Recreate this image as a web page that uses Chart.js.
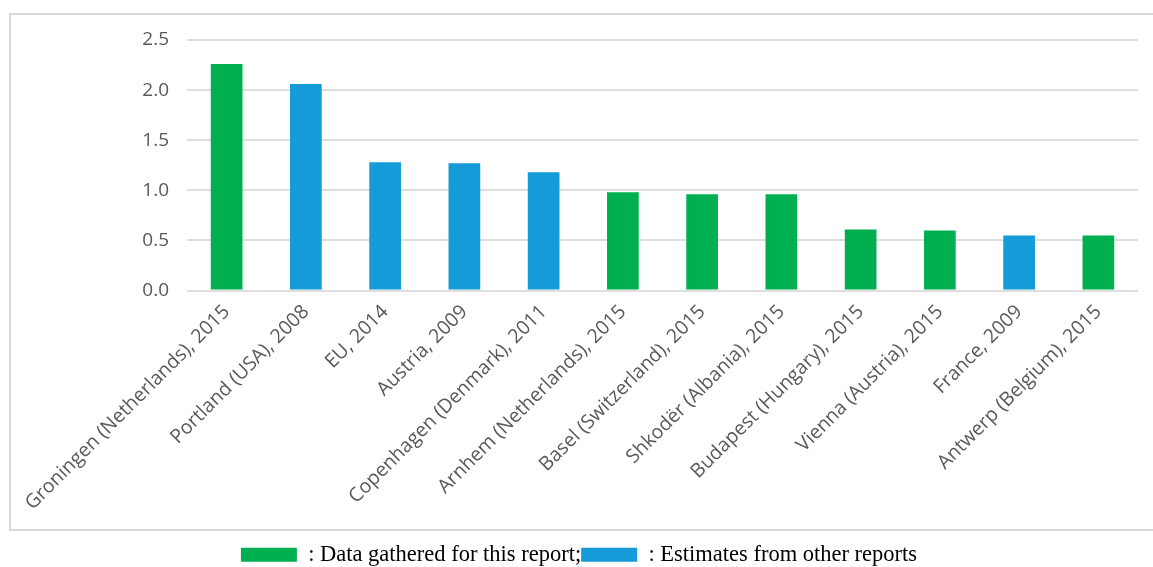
<!DOCTYPE html>
<html>
<head>
<meta charset="utf-8">
<script src="https://cdn.jsdelivr.net/npm/chart.js@4/dist/chart.umd.min.js"></script>
<style>
html,body{margin:0;padding:0;background:#fff;}
#wrap{position:relative;width:1153px;height:567px;}
</style>
</head>
<body>
<div id="wrap"><canvas id="c" width="1153" height="567"></canvas></div>
<script>
const categories = [
  "Groningen (Netherlands), 2015",
  "Portland (USA), 2008",
  "EU, 2014",
  "Austria, 2009",
  "Copenhagen (Denmark), 2011",
  "Arnhem (Netherlands), 2015",
  "Basel (Switzerland), 2015",
  "Shkodër (Albania), 2015",
  "Budapest (Hungary), 2015",
  "Vienna (Austria), 2015",
  "France, 2009",
  "Antwerp (Belgium), 2015"
];
const values = [2.26, 2.06, 1.28, 1.27, 1.18, 0.98, 0.96, 0.96, 0.61, 0.60, 0.55, 0.55];
// "own" = data gathered for this report, "other" = estimates from other reports
const sources = ["own","other","other","other","other","own","own","own","own","own","other","own"];
const legendLabels = [": Data gathered for this report;", ": Estimates from other reports"];
const yTicks = [0, 0.5, 1.0, 1.5, 2.0, 2.5];

const GREEN = "#00b050";
const BLUE = "#159bd7";
const colors = sources.map(s => s === "own" ? GREEN : BLUE);

const framePlugin = {
  id: "frame",
  beforeDraw(chart) {
    const ctx = chart.ctx;
    ctx.save();
    ctx.strokeStyle = "#d9d9d9";
    ctx.lineWidth = 2;
    ctx.strokeRect(10, 14, 1160, 516);
    ctx.restore();
  }
};

new Chart(document.getElementById("c"), {
  type: "bar",
  data: {
    labels: categories,
    datasets: [{
      data: values,
      backgroundColor: colors,
      borderColor: colors,
      borderWidth: 0,
      barPercentage: 0.4,
      categoryPercentage: 1.0
    }]
  },
  options: {
    responsive: false,
    animation: false,
    layout: { padding: { left: 20, right: 15, top: 40, bottom: -9 } },
    plugins: {
      tooltip: { enabled: false },
      legend: {
        position: "bottom",
        labels: {
          boxWidth: 56,
          boxHeight: 14,
          padding: 0,
          color: "#000",
          font: { family: "'Liberation Serif', 'DejaVu Serif', serif", size: 22.5 },
          generateLabels() {
            return [
              { text: legendLabels[0], fillStyle: GREEN, strokeStyle: GREEN, lineWidth: 0, hidden: false, datasetIndex: 0 },
              { text: legendLabels[1], fillStyle: BLUE, strokeStyle: BLUE, lineWidth: 0, hidden: false, datasetIndex: 0 }
            ];
          }
        },
        onClick() {}
      }
    },
    scales: {
      x: {
        grid: { display: false },
        border: { display: false },
        ticks: {
          minRotation: 45,
          maxRotation: 45,
          autoSkip: false,
          padding: 2,
          color: "#595959",
          font: { family: "'Open Sans', sans-serif", size: 19.5 }
        },
        afterFit(scale) { scale.height = 253; }
      },
      y: {
        min: 0,
        max: 2.5,
        afterBuildTicks(scale) { scale.ticks = yTicks.map(v => ({ value: v })); },
        grid: { color: "#dedede", lineWidth: 2, drawTicks: false },
        border: { display: false },
        ticks: {
          padding: 18,
          color: "#595959",
          font: { family: "'Open Sans', sans-serif", size: 19 },
          callback: v => Number(v).toFixed(1)
        },
        afterFit(scale) { scale.width = 167; }
      }
    }
  },
  plugins: [framePlugin]
});
</script>
</body>
</html>
